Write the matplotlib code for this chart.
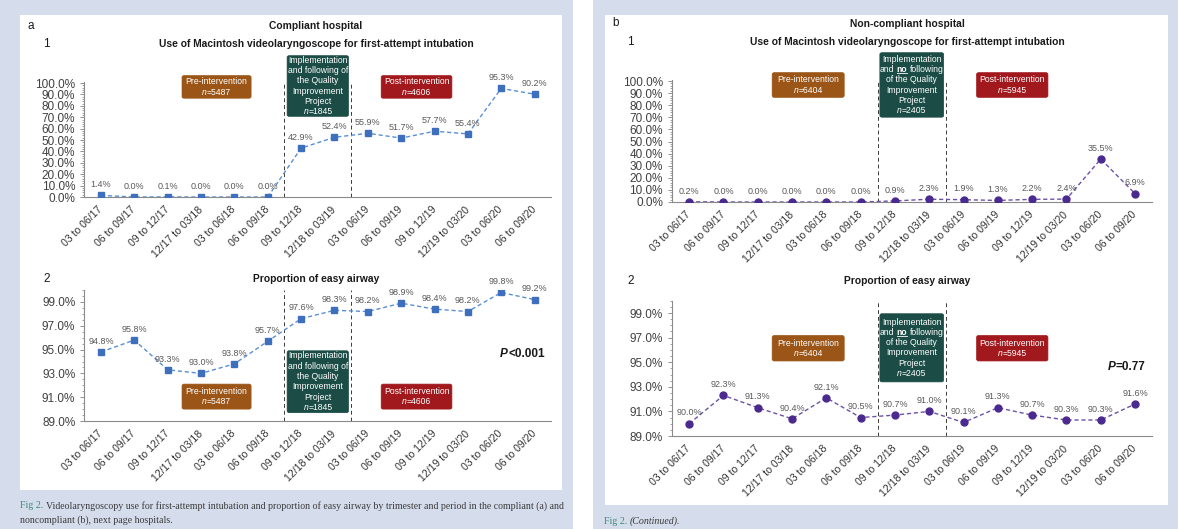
import matplotlib
matplotlib.use('Agg')
import numpy as np
import matplotlib.pyplot as plt
from matplotlib.patches import Rectangle, FancyBboxPatch
from matplotlib.lines import Line2D
from matplotlib.transforms import Affine2D, ScaledTranslation
from matplotlib.ticker import MultipleLocator, FuncFormatter

plt.rcParams['font.family'] = ['Liberation Sans', 'DejaVu Sans']

# ---- data ----
periods = ['03 to 06/17', '06 to 09/17', '09 to 12/17', '12/17 to 03/18',
           '03 to 06/18', '06 to 09/18', '09 to 12/18', '12/18 to 03/19',
           '03 to 06/19', '06 to 09/19', '09 to 12/19', '12/19 to 03/20',
           '03 to 06/20', '06 to 09/20']

comp_video = [1.4, 0.0, 0.1, 0.0, 0.0, 0.0, 42.9, 52.4, 55.9, 51.7, 57.7, 55.4, 95.3, 90.2]
comp_easy = [94.8, 95.8, 93.3, 93.0, 93.8, 95.7, 97.6, 98.3, 98.2, 98.9, 98.4, 98.2, 99.8, 99.2]
noncomp_video = [0.2, 0.0, 0.0, 0.0, 0.0, 0.0, 0.9, 2.3, 1.9, 1.3, 2.2, 2.4, 35.5, 6.9]
noncomp_easy = [90.0, 92.3, 91.3, 90.4, 92.1, 90.5, 90.7, 91.0, 90.1, 91.3, 90.7, 90.3, 90.3, 91.6]

comp_n = [5487, 1845, 4606]       # pre, implementation, post
noncomp_n = [6404, 2405, 5945]
comp_p = '<0.001'
noncomp_p = '=0.77'

video_ticks = np.arange(0, 101, 10)
easy_ticks = np.arange(89, 100, 2)

W, H = 1178, 529
fig = plt.figure(figsize=(W / 100, H / 100), dpi=100)
fig.patch.set_facecolor('white')
R = fig.canvas.get_renderer()

BG = '#d5ddec'
PRE_C, IMP_C, POST_C = '#9a5517', '#1b4c46', '#a1181d'
SANS = ['Liberation Sans', 'DejaVu Sans']
SERIF = ['Liberation Serif', 'DejaVu Serif']


def rect(x0, y0, x1, y1, c):
    fig.add_artist(Rectangle((x0 / W, 1 - y1 / H), (x1 - x0) / W, (y1 - y0) / H,
                             transform=fig.transFigure, fc=c, ec='none', zorder=-5))


def tw(s, **props):
    t = fig.text(0, 0, s, **props)
    w = t.get_window_extent(R).width
    t.remove()
    return w


def rich(base, x, y, lines, size, color='white', ha='center', weight='normal', lh=None, family=SANS):
    # lines of (text, props) pieces, laid out side by side
    lh = lh or size * 1.389 * 1.2
    sp = (tw('a a', fontsize=size, fontweight=weight, family=family)
          - tw('aa', fontsize=size, fontweight=weight, family=family))
    anchor = ScaledTranslation(x, y, base)
    n = len(lines)
    for i, parts in enumerate(lines):
        dy = ((n - 1) / 2 - i) * lh
        items = []
        for s, st in parts:
            st = dict(st)
            ul = st.pop('ul', False)
            props = dict(fontsize=size, fontweight=weight, color=color, family=family)
            props.update(st)
            w = sp if s == ' ' else tw(s, **props)
            items.append((s, props, w, ul))
        total = sum(it[2] for it in items)
        cum = {'center': -total / 2, 'right': -total, 'left': 0}[ha]
        for s, props, w, ul in items:
            if s != ' ':
                fig.text(0, 0, s, ha='left', va='center', zorder=6,
                         transform=Affine2D().translate(cum, dy) + anchor, **props)
            if ul:
                fig.add_artist(Line2D([0, w], [0, 0], color=props['color'], lw=0.6, zorder=6,
                                      transform=Affine2D().translate(cum, dy - size * 0.6) + anchor))
            cum += w


def px_axes(x0, y0, x1, y1):
    return fig.add_axes([x0 / W, 1 - y1 / H, (x1 - x0) / W, (y1 - y0) / H])


def fmt_pct(v, pos):
    return f'{v:.1f}%'


def chart(pos, vals, ylim, yticks, minor, mcol, lcol, marker, boxes, nvals, follow, pval=None):
    ax = px_axes(*pos)
    ax.patch.set_visible(False)
    x = list(range(len(vals)))
    ax.plot(x, vals, ls=(0, (3, 2)), lw=1.0, color=lcol, zorder=3)
    ax.plot(x, vals, ls='none', marker=marker, ms=5, color=mcol, zorder=4)
    for i, v in enumerate(vals):
        ax.annotate(f'{v:.1f}%', (i, v), xytext=(0, 4.5), textcoords='offset points',
                    ha='center', va='bottom', fontsize=6.5, color='#595959', zorder=5)
    ax.set_xlim(-0.5, len(vals) - 0.5)
    ax.set_ylim(*ylim)
    top = 100 if ylim[1] > 100 else ylim[1]
    for xv in (5.5, 7.5):
        ax.vlines(xv, ylim[0], top, colors='#3a3a3a', linestyles=(0, (4, 3)), lw=0.7, zorder=2)
    ax.set_yticks(yticks)
    ax.yaxis.set_minor_locator(MultipleLocator(minor))
    ax.yaxis.set_major_formatter(FuncFormatter(fmt_pct))
    ax.tick_params(axis='y', labelsize=8.5, labelcolor='#404040', color='#808080', length=3, width=0.6)
    ax.tick_params(axis='y', which='minor', color='#808080', length=1.8, width=0.5)
    ax.set_xticks(x)
    ax.set_xticklabels(periods, rotation=45, ha='right', va='center', rotation_mode='anchor',
                       fontsize=7.6, color='#333333')
    ax.tick_params(axis='x', length=0, pad=8)
    for s in ('top', 'right'):
        ax.spines[s].set_visible(False)
    for s in ('left', 'bottom'):
        ax.spines[s].set_color('#8a8a8a')
        ax.spines[s].set_linewidth(0.8)

    colors = [PRE_C, IMP_C, POST_C]
    for (x0, x1, y0, y1), c in zip(boxes, colors):
        ax.add_patch(FancyBboxPatch((x0, y0), x1 - x0, y1 - y0, boxstyle='round,pad=0,rounding_size=0.06',
                                    mutation_aspect=(ylim[1] - ylim[0]) / 14 * 3.3,
                                    fc=c, ec=c, lw=0.5, clip_on=False, zorder=5))
    it = {'style': 'italic'}
    pre_l = [[('Pre-intervention', {})], [('n', it), (f'={nvals[0]}', {})]]
    post_l = [[('Post-intervention', {})], [('n', it), (f'={nvals[2]}', {})]]
    if follow:
        imp_l = [[('Implementation', {})], [('and following of', {})], [('the Quality', {})],
                 [('Improvement', {})], [('Project', {})], [('n', it), (f'={nvals[1]}', {})]]
    else:
        imp_l = [[('Implementation', {})],
                 [('and', {}), (' ', {}), ('no', {'fontweight': 'bold', 'ul': True}), (' ', {}), ('following', {})],
                 [('of the Quality', {})], [('Improvement', {})], [('Project', {})],
                 [('n', it), (f'={nvals[1]}', {})]]
    for (x0, x1, y0, y1), lines in zip(boxes, [pre_l, imp_l, post_l]):
        rich(ax.transData, (x0 + x1) / 2, (y0 + y1) / 2, lines, 6.2, lh=10.3)
    if pval:
        rich(ax.transData, 13.3, 94.6, [[('P', {'style': 'italic'}), (pval, {})]], 8.5,
             color='#1a1a1a', ha='right', weight='bold')
    return ax


# ---- page backgrounds ----
rect(0, 0, 573, 529, BG)
rect(593, 0, 1178, 529, BG)
rect(20, 15, 562, 490, 'white')
rect(605, 15, 1168, 505, 'white')

# ---- left: compliant hospital ----
chart((84.3, 81.9, 551.3, 197), comp_video, (0, 101), video_ticks, 2, '#3d6fbd', '#5b8fd3', 's',
      [(2.43, 4.5, 86.7, 106.5), (5.58, 7.42, 70.8, 124), (8.4, 10.52, 86.7, 106.5)],
      comp_n, True)
chart((84.3, 290.1, 551.3, 421), comp_easy, (89, 100), easy_ticks, 0.5, '#3d6fbd', '#5b8fd3', 's',
      [(2.43, 4.5, 90.0, 92.1), (5.58, 7.42, 89.7, 94.9), (8.4, 10.52, 90.0, 92.1)],
      comp_n, True, comp_p)

# ---- right: non-compliant hospital ----
chart((672, 79.8, 1152.2, 202), noncomp_video, (0, 101), video_ticks, 2, '#4b2a8f', '#6c52a6', 'o',
      [(2.42, 4.52, 86.5, 106.9), (5.56, 7.42, 70.1, 123.4), (8.38, 10.46, 86.5, 106.9)],
      noncomp_n, False)
chart((672, 300.7, 1152.2, 436), noncomp_easy, (89, 100), easy_ticks, 0.5, '#4b2a8f', '#6c52a6', 'o',
      [(2.42, 4.52, 95.1, 97.17), (5.56, 7.42, 93.4, 98.94), (8.38, 10.46, 95.1, 97.17)],
      noncomp_n, False, noncomp_p)


# ---- titles ----
def ftext(x, y, s, **kw):
    fig.text(x / W, 1 - y / H, s, va='center', color='#1a1a1a', **kw)


TS = 7.4
ftext(28, 26, 'a', fontsize=8.5)
ftext(316, 26, 'Compliant hospital', fontsize=TS, fontweight='bold', ha='center')
ftext(43, 44, '1', fontsize=8.5)
ftext(316, 44, 'Use of Macintosh videolaryngoscope for first-attempt intubation', fontsize=TS,
      fontweight='bold', ha='center')
ftext(43, 279, '2', fontsize=8.5)
ftext(316, 279, 'Proportion of easy airway', fontsize=TS, fontweight='bold', ha='center')

ftext(612, 23, 'b', fontsize=8.5)
ftext(907, 24, 'Non-compliant hospital', fontsize=TS, fontweight='bold', ha='center')
ftext(627, 42, '1', fontsize=8.5)
ftext(907, 42, 'Use of Macintosh videolaryngoscope for first-attempt intubation', fontsize=TS,
      fontweight='bold', ha='center')
ftext(627, 281, '2', fontsize=8.5)
ftext(907, 281, 'Proportion of easy airway', fontsize=TS, fontweight='bold', ha='center')

# ---- captions ----
cap_col = '#3a3a3a'
fig_col = '#3c8a78'
CS = 7.15
rich(fig.transFigure, 20 / W, 1 - 506 / H,
     [[('Fig 2.', {'color': fig_col}), (' ', {}),
       ('Videolaryngoscopy use for first-attempt intubation and proportion of easy airway by trimester '
        'and period in the compliant (a) and', {})]],
     CS, color=cap_col, ha='left', family=SERIF)
fig.text(20 / W, 1 - 520 / H, 'noncompliant (b), next page hospitals.', fontsize=CS,
         color=cap_col, va='center', family=SERIF)
rich(fig.transFigure, 604 / W, 1 - 521 / H,
     [[('Fig 2.', {'color': fig_col}), (' ', {}), ('(Continued).', {'style': 'italic'})]],
     CS, color=cap_col, ha='left', family=SERIF)

fig.savefig('out.png', dpi=100)
